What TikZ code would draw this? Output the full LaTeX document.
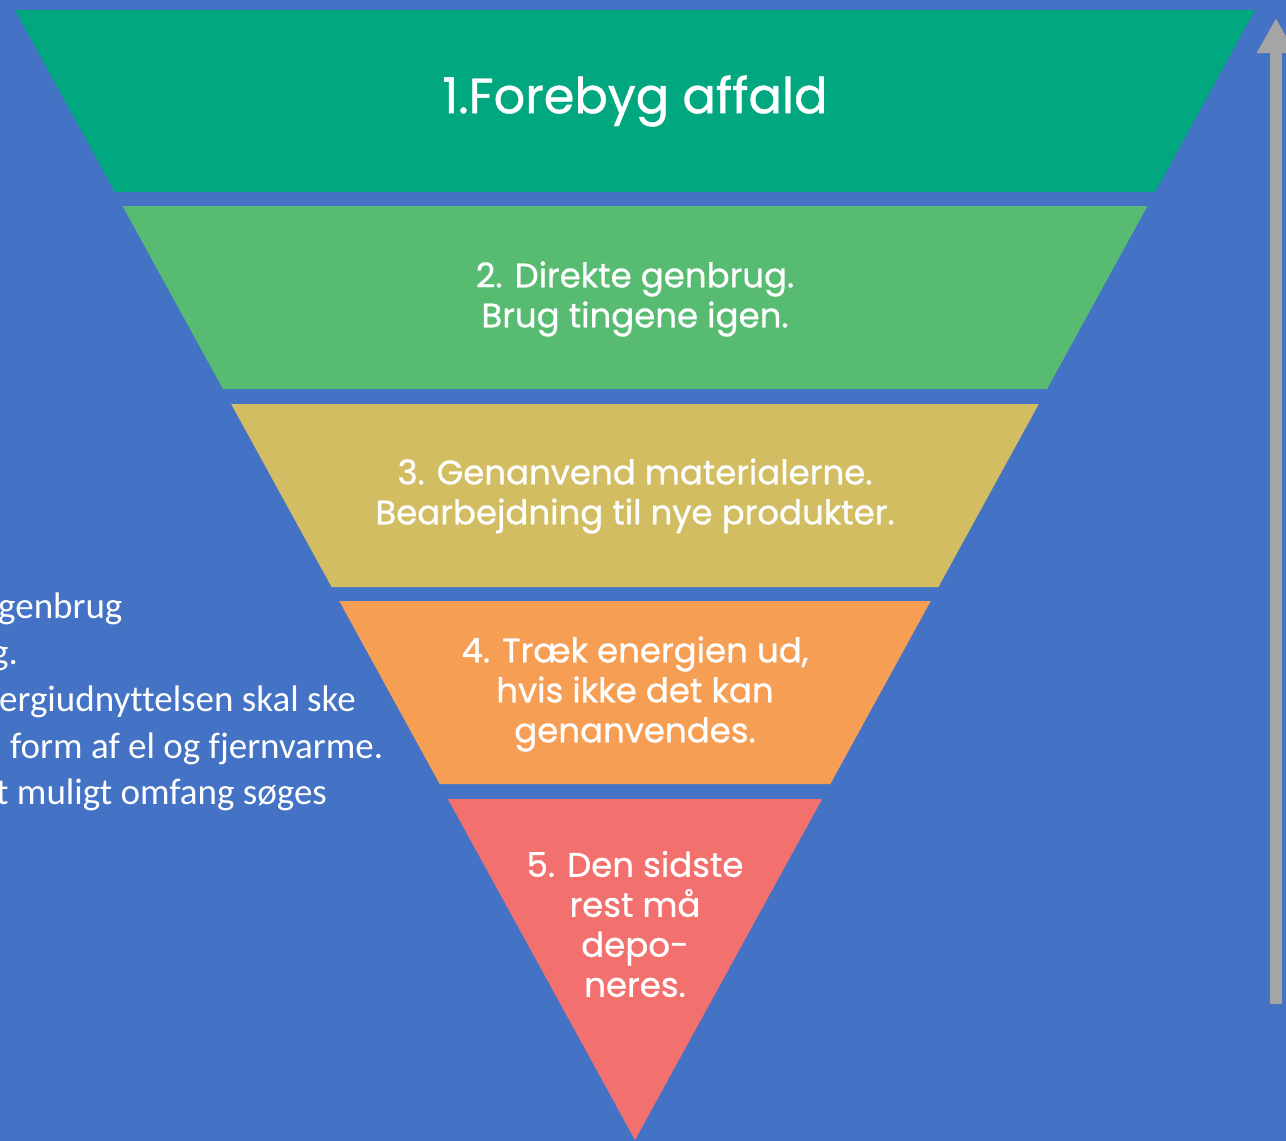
\documentclass[tikz,border=0pt]{standalone}
\usepackage{fontspec}
\usepackage{xcolor}
\usepackage{tikz}
\usetikzlibrary{arrows.meta}
\newfontfamily\bandfont[FakeBold=0.8]{Poppins}
\newfontfamily\sidefont[Ligatures=NoCommon]{Carlito}
\definecolor{bgblue}{HTML}{4472C4}
\definecolor{lvlA}{HTML}{00A77F}
\definecolor{lvlB}{HTML}{57BB72}
\definecolor{lvlC}{HTML}{D2BD62}
\definecolor{lvlD}{HTML}{F79E55}
\definecolor{lvlE}{HTML}{F2706E}
\definecolor{arrowgray}{HTML}{A5A5A5}
\tikzset{
  bandtxt/.style={text=white, font=\bandfont\fontsize{34}{40}\selectfont, align=center, inner sep=0pt},
  toptxt/.style={text=white, font=\bandfont\fontsize{49.5}{56}\selectfont, inner sep=0pt},
  sidetxt/.style={text=white, font=\sidefont\fontsize{37}{47}\selectfont, anchor=base west, inner sep=0pt},
  uparrow/.style={draw=arrowgray, line width=12pt, -{Triangle[width=36pt,length=35pt]}},
}

\begin{document}
\begin{tikzpicture}[x=1pt,y=-1pt]
  \useasboundingbox (0,0) rectangle (1286,1141);
  \path[clip] (0,0) rectangle (1286,1141);
  \fill[bgblue] (0,0) rectangle (1286,1141);

  % the five bands of the funnel
  \pgfmathsetmacro{\slope}{620/1130}
  \foreach \ya/\yb/\col in {10/192/lvlA, 206/389/lvlB, 404/587/lvlC, 601/784/lvlD, 799/1140/lvlE}{
    \pgfmathsetmacro{\xa}{15+(\ya-10)*\slope}
    \pgfmathsetmacro{\xb}{15+(\yb-10)*\slope}
    \fill[\col] (\xa,\ya) -- ({1270-\xa},\ya) -- ({1270-\xb},\yb) -- (\xb,\yb) -- cycle;
  }

  \node[toptxt] (forebyg) at (635,101) {1.Forebyg affald};
  \node[bandtxt] (genbrug) at (635,299) {2. Direkte genbrug.\\Brug tingene igen.};
  \node[bandtxt] (genanvend) at (635,496) {3. Genanvend materialerne.\\Bearbejdning til nye produkter.};
  \node[bandtxt] (energi) at (635,694) {4. Træk energien ud,\\hvis ikke det kan\\genanvendes.};
  \node[bandtxt] (deponi) at (635,924) {5. Den sidste\\rest må\\depo-\\neres.};

  % text cut off at the left edge
  \node[sidetxt] (sideA) at (-2,618) {genbrug};
  \node[sidetxt] (sideB) at (-9,664) {g.};
  \node[sidetxt] (sideC) at (-1,711) {ergiudnyttelsen skal ske};
  \node[sidetxt] (sideD) at (10,758) {form af el og fjernvarme.};
  \node[sidetxt] (sideE) at (-4,804) {t muligt omfang søges};

  % arrow up the right side
  \coordinate (arrowfoot) at (1276,1004);
  \coordinate (arrowtip) at (1276,18);
  \draw[uparrow] (arrowfoot) -- (arrowtip);
\end{tikzpicture}
\end{document}
